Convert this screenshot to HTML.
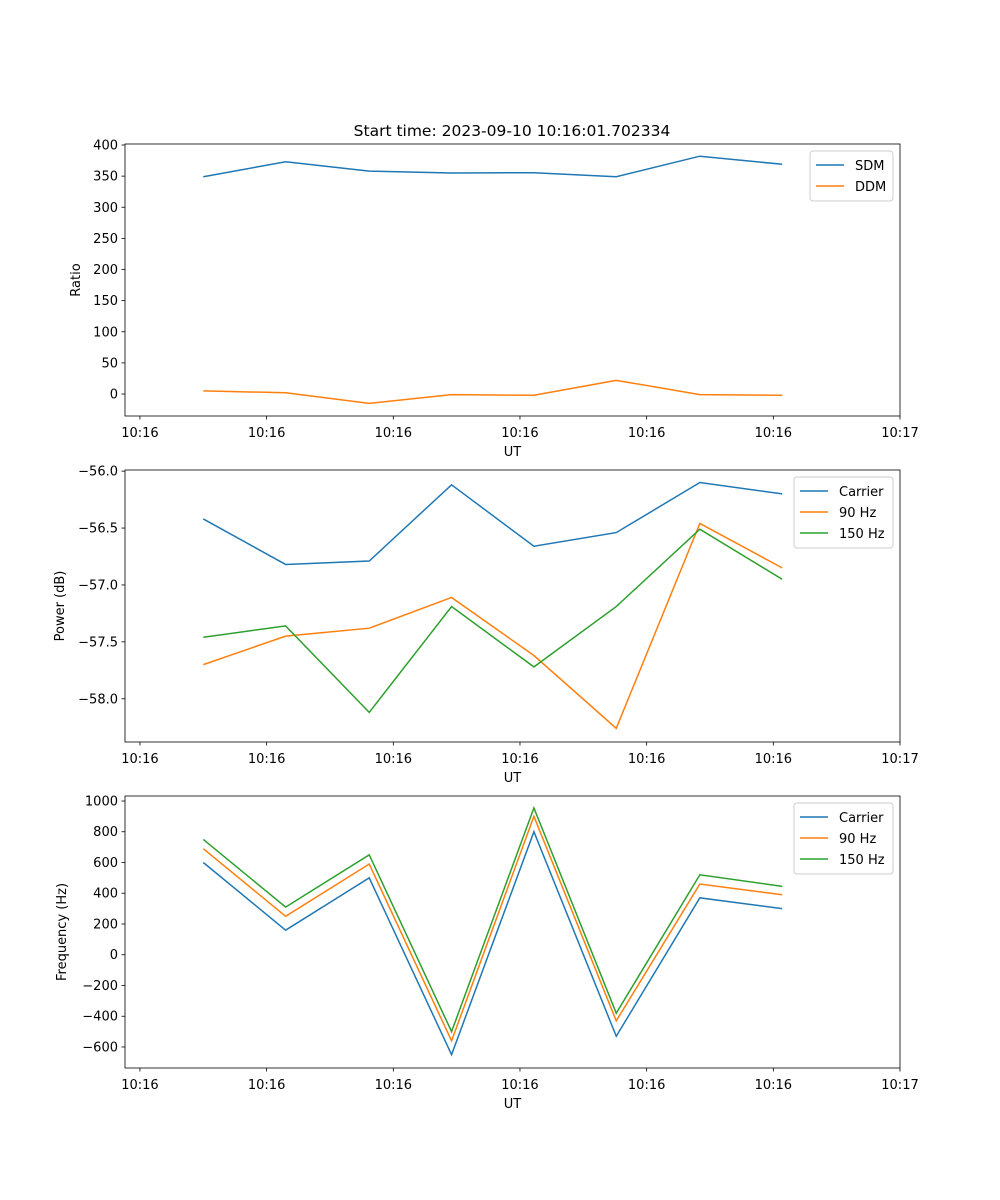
<!DOCTYPE html>
<html><head><meta charset="utf-8"><style>
body{margin:0;background:#fff;}
svg{display:block;font-family:"DejaVu Sans","Liberation Sans",sans-serif;}
</style></head><body>
<svg id="fig" width="1000" height="1200" xmlns="http://www.w3.org/2000/svg"></svg>
<script>
const xSeconds=[5.0,11.5,18.1,24.6,31.1,37.6,44.2,50.7];
const xTickVals=[0,10,20,30,40,50,60];
const xTickLabels=["10:16","10:16","10:16","10:16","10:16","10:16","10:17"];
const sdm=[349,373,358,355,355.5,349,382,369];
const ddm=[5,2,-15,-1,-2,22,-1,-2];
const powCarrier=[-56.42,-56.82,-56.79,-56.12,-56.66,-56.54,-56.10,-56.20];
const pow90=[-57.70,-57.45,-57.38,-57.11,-57.62,-58.26,-56.46,-56.85];
const pow150=[-57.46,-57.36,-58.12,-57.19,-57.72,-57.19,-56.51,-56.95];
const freqCarrier=[600,160,500,-650,800,-530,370,300];
const freq90=[690,250,590,-560,900,-430,460,390];
const freq150=[750,310,650,-500,955,-380,520,445];
const ticks1=[0,50,100,150,200,250,300,350,400];
const ticks2=[-58.0,-57.5,-57.0,-56.5,-56.0];
const ticks3=[-600,-400,-200,0,200,400,600,800,1000];

const NS="http://www.w3.org/2000/svg";
const svg=document.getElementById('fig');
function el(tag,attrs,parent){const e=document.createElementNS(NS,tag);for(const k in attrs)e.setAttribute(k,attrs[k]);(parent||svg).appendChild(e);return e;}
const L=125,R=900,xMin=-1.18,xMax=60;
const xs=v=>L+(v-xMin)/(xMax-xMin)*(R-L);
const C=['#1f77b4','#ff7f0e','#2ca02c'];

function panel(name,top,bottom,yMin,yMax,yTicks,fmt,series,labels,ylabel,ylabelX,legendW){
  const g=el('g',{});
  
  
  const ys=v=>bottom-(v-yMin)/(yMax-yMin)*(bottom-top);
  series.forEach((s,i)=>{
    const p=el('polyline',{points:s.map((v,j)=>xs(xSeconds[j])+','+ys(v)).join(' '),fill:'none',stroke:C[i],'stroke-width':1.5},g);
    
    
  });
  el('rect',{x:L,y:top,width:R-L,height:bottom-top,fill:'none',stroke:'#000','stroke-width':0.8},g);
  yTicks.forEach(t=>{const y=ys(t);
    el('line',{x1:L-3.5,x2:L,y1:y,y2:y,stroke:'#000','stroke-width':0.8},g);
    const tx=el('text',{x:L-7,y:y+4.5,'text-anchor':'end','font-size':13},g);tx.textContent=fmt(t);
    });
  xTickVals.forEach((t,i)=>{const x=xs(t);
    el('line',{x1:x,x2:x,y1:bottom,y2:bottom+3.5,stroke:'#000','stroke-width':0.8},g);
    const tx=el('text',{x:x,y:bottom+21,'text-anchor':'middle','font-size':13},g);tx.textContent=xTickLabels[i];
    });
  const xl=el('text',{x:(L+R)/2,y:bottom+40,'text-anchor':'middle','font-size':13},g);xl.textContent='UT';
  
  const yl=el('text',{x:0,y:0,'text-anchor':'middle','font-size':13,transform:`translate(${ylabelX},${(top+bottom)/2}) rotate(-90)`},g);yl.textContent=ylabel;
  
  const lw=legendW,lh=labels.length*21+8,lx=R-7-lw,ly=top+7;
  const lg=el('g',{},g);
  el('rect',{x:lx,y:ly,width:lw,height:lh,rx:3,fill:'#fff','fill-opacity':0.8,stroke:'#ccc'},lg);
  labels.forEach((lab,i)=>{const yy=ly+14+i*21;
    el('line',{x1:lx+6,x2:lx+34,y1:yy,y2:yy,stroke:C[i],'stroke-width':1.5},lg);
    const t=el('text',{x:lx+45,y:yy+5,'font-size':13},lg);t.textContent=lab;
    });
}
const tt=el('text',{x:512,y:136,'text-anchor':'middle','font-size':15.5});
tt.textContent='Start time: 2023-09-10 10:16:01.702334';

panel('ratio-panel',144,416,-35.3,401.6,ticks1,v=>String(v),[sdm,ddm],['SDM','DDM'],'Ratio',80,83);
panel('power-panel',470,742,-58.38,-55.99,ticks2,v=>(v<0?'\u2212':'')+Math.abs(v).toFixed(1),[powCarrier,pow90,pow150],['Carrier','90 Hz','150 Hz'],'Power (dB)',64,99);
panel('frequency-panel',796,1068,-736.6,1032.5,ticks3,v=>(v<0?'\u2212':'')+Math.abs(v),[freqCarrier,freq90,freq150],['Carrier','90 Hz','150 Hz'],'Frequency (Hz)',66,99);
</script>
</body></html>
